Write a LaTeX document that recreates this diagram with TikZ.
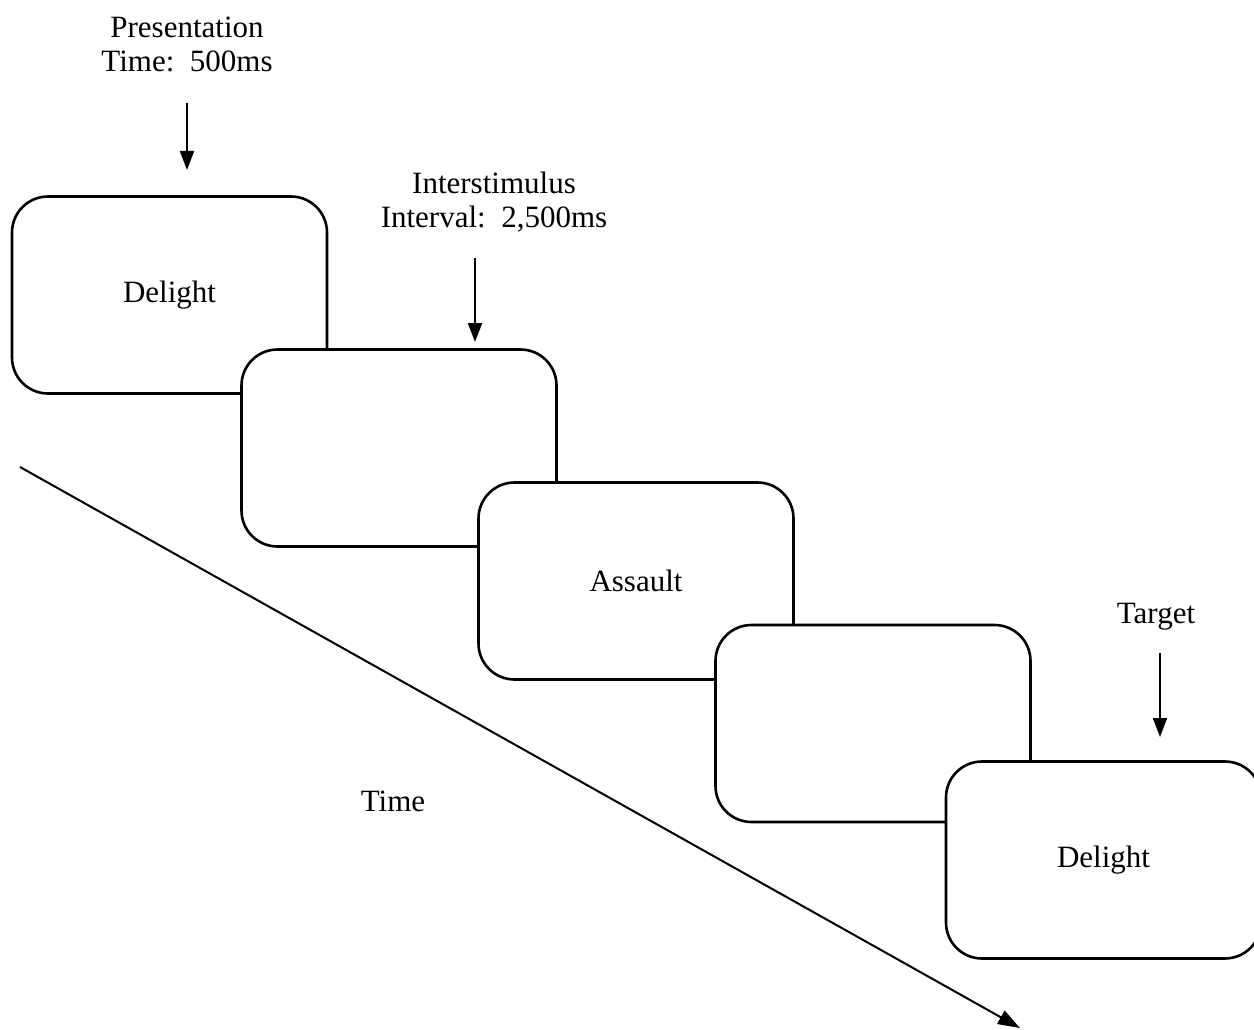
\documentclass[tikz,border=0pt]{standalone}
\usepackage{fontspec}
\setmainfont{Liberation Serif}
\usetikzlibrary{arrows.meta}
\begin{document}
\begin{tikzpicture}[x=1pt,y=-1pt,
  screen/.style={draw=black, line width=2.6pt, fill=white, rounded corners=36pt,
    minimum width=315pt, minimum height=197pt, inner sep=0pt, font=\fontsize{31}{34}\selectfont},
  lbl/.style={align=center, inner sep=0pt, font=\fontsize{31}{34}\selectfont},
  pointer/.style={line width=2pt, -{Triangle[length=19pt,width=14pt]}},
  axis/.style={line width=2pt, -{Triangle[length=22pt,width=15pt]}}]
\useasboundingbox (0,0) rectangle (1254,1030);
\path[fill=white] (0,0) rectangle (1254,1030);

% time axis
\coordinate (t0) at (20,467);
\coordinate (t1) at (1020,1028);
\draw[axis] (t0) -- (t1);
\node[lbl] (timelbl) at (393,801) {Time};

% stimulus screens, each overlapping the previous one
\node[screen] (s1) at (169.5,295) {Delight};
\node[screen] (s2) at (399,448) {};
\node[screen] (s3) at (636,581) {Assault};
\node[screen] (s4) at (873,723.5) {};
\node[screen] (s5) at (1103.5,860) {Delight};

% labels with pointers
\node[lbl] (pres) at (187,44) {Presentation\\Time:\ \ 500ms};
\coordinate (p1a) at (187,103);
\coordinate (p1b) at (187,170);
\draw[pointer] (p1a) -- (p1b);

\node[lbl] (isi) at (494,202) {Interstimulus\\Interval:\ \ 2,500ms};
\coordinate (p2a) at (475,258);
\coordinate (p2b) at (475,342);
\draw[pointer] (p2a) -- (p2b);

\node[lbl] (tgt) at (1156,617) {Target};
\coordinate (p3a) at (1160,653);
\coordinate (p3b) at (1160,737);
\draw[pointer] (p3a) -- (p3b);
\end{tikzpicture}
\end{document}
